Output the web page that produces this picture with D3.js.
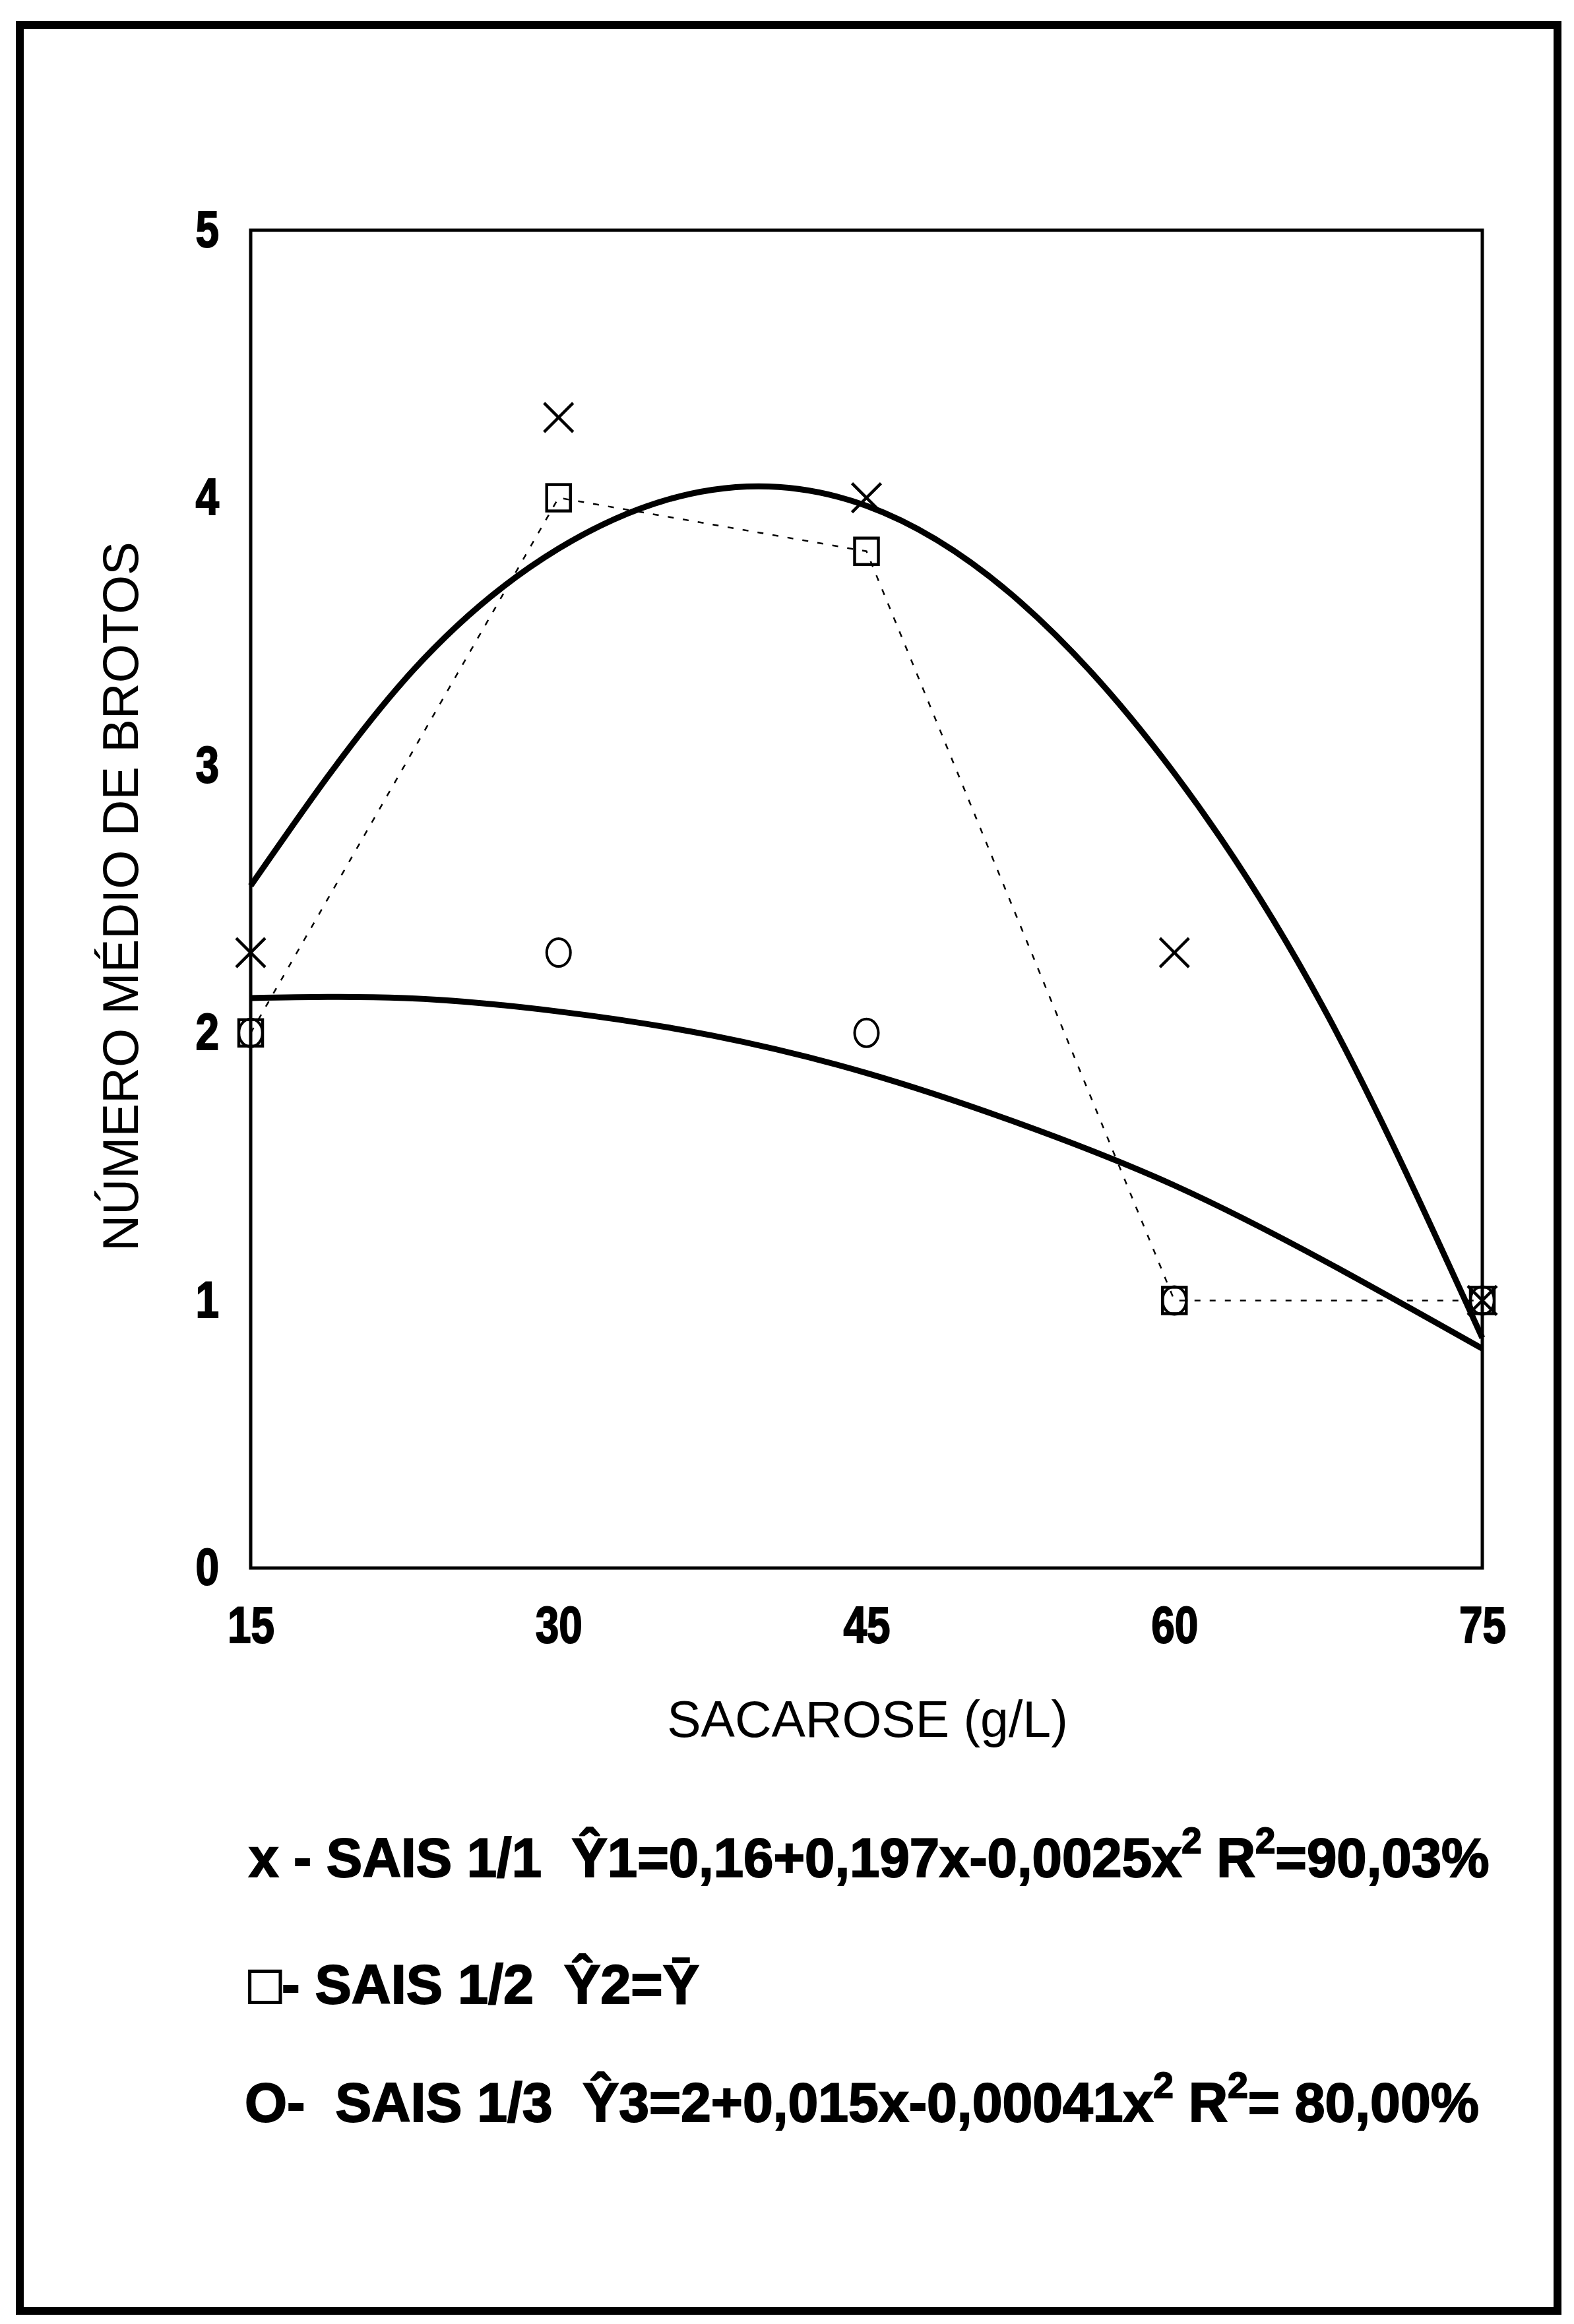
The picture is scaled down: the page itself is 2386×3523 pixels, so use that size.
<!DOCTYPE html>
<html>
<head>
<meta charset="utf-8">
<script src="https://cdn.jsdelivr.net/npm/d3@7"></script>
<style>
  body { margin: 0; background: #fff; }
  svg { display: block; }
</style>
</head>
<body>
<div id="chart"></div>
<script>
// sucrose levels (g/L)
const sacarose = [15, 30, 45, 60, 75];
// observed means per salt level
const sais11 = [2.3, 4.3, 4.0, 2.3, 1.0];
const sais12 = [2.0, 4.0, 3.8, 1.0, 1.0];
const sais13 = [2.0, 2.3, 2.0, 1.0, 1.0];
// fitted curves
const curveX = [15, 22.5, 30, 37.5, 45, 52.5, 60, 67.5, 75];
const fit11 = [2.55, 3.32, 3.81, 4.03, 3.97, 3.61, 2.97, 2.06, 0.86];
const fit13 = [2.13, 2.13, 2.08, 1.99, 1.85, 1.66, 1.43, 1.14, 0.82];
const yTicks = [0, 1, 2, 3, 4, 5];

// legend lines: [text, isSuperscript]
const legend1 = [["x - SAIS 1/1  Ŷ1=0,16+0,197x-0,0025x", false], ["2", true], [" R", false], ["2", true], ["=90,03%", false]];
const legend2 = [["□- SAIS 1/2  Ŷ2=Ȳ", false]];
const legend3 = [["O-  SAIS 1/3  Ŷ3=2+0,015x-0,00041x", false], ["2", true], [" R", false], ["2", true], ["= 80,00%", false]];

const width = 2386;
const height = 3523;
const plot = { left: 380, right: 2247, top: 349, bottom: 2377 };
const font = "'Liberation Sans', Arial, sans-serif";
const narrow = 0.82;

const svg = d3.select("#chart")
  .append("svg")
  .attr("width", width)
  .attr("height", height);

// outer frame
svg.append("rect")
  .attr("x", 30).attr("y", 38)
  .attr("width", 2331).attr("height", 3465)
  .attr("fill", "none")
  .attr("stroke", "#000")
  .attr("stroke-width", 12);

const x = d3.scaleLinear().domain([15, 75]).range([plot.left, plot.right]);
const y = d3.scaleLinear().domain([0, 5]).range([plot.bottom, plot.top]);

// plot box
svg.append("rect")
  .attr("x", plot.left).attr("y", plot.top)
  .attr("width", plot.right - plot.left)
  .attr("height", plot.bottom - plot.top)
  .attr("fill", "none")
  .attr("stroke", "#000")
  .attr("stroke-width", 5);

// axes
const yAxis = svg.append("g")
  .attr("transform", `translate(${plot.left},0)`)
  .call(d3.axisLeft(y).tickValues(yTicks).tickSize(0).tickPadding(48).tickFormat(d3.format("d")));

const xAxis = svg.append("g")
  .attr("transform", `translate(0,${plot.bottom})`)
  .call(d3.axisBottom(x).tickValues(sacarose).tickSize(0).tickPadding(58).tickFormat(d3.format("d")));

[yAxis, xAxis].forEach(g => {
  g.select(".domain").remove();
  g.selectAll("text")
    .attr("font-family", font)
    .attr("font-weight", "bold")
    .attr("font-size", 78)
    .attr("fill", "#000")
    .attr("stroke", "#000")
    .attr("stroke-width", 2);
});
yAxis.selectAll("text")
  .attr("x", -48 / narrow)
  .attr("transform", `scale(${narrow},1)`);
xAxis.selectAll("text")
  .attr("transform", `scale(${narrow},1)`);

// axis titles
svg.append("text")
  .attr("x", 1315)
  .attr("y", 2633)
  .attr("text-anchor", "middle")
  .attr("font-family", font)
  .attr("font-size", 77)
  .text("SACAROSE (g/L)");

svg.append("text")
  .attr("transform", "translate(209,1359) rotate(-90)")
  .attr("text-anchor", "middle")
  .attr("font-family", font)
  .attr("font-size", 76)
  .text("NÚMERO MÉDIO DE BROTOS");

// fitted curves
const line = d3.line()
  .x(d => x(d[0]))
  .y(d => y(d[1]))
  .curve(d3.curveNatural);

[fit11, fit13].forEach(vals => {
  svg.append("path")
    .datum(curveX.map((c, i) => [c, vals[i]]))
    .attr("d", line)
    .attr("fill", "none")
    .attr("stroke", "#000")
    .attr("stroke-width", 9);
});

// dashed connecting line for SAIS 1/2
svg.append("path")
  .datum(sacarose.map((c, i) => [c, sais12[i]]))
  .attr("d", d3.line().x(d => x(d[0])).y(d => y(d[1])))
  .attr("fill", "none")
  .attr("stroke", "#000")
  .attr("stroke-width", 2.5)
  .attr("stroke-dasharray", "9,14");

// circles (SAIS 1/3)
svg.selectAll(".circ")
  .data(sacarose.map((c, i) => [c, sais13[i]]))
  .enter()
  .append("ellipse")
  .attr("cx", d => x(d[0]))
  .attr("cy", d => y(d[1]))
  .attr("rx", 18)
  .attr("ry", 21)
  .attr("fill", "none")
  .attr("stroke", "#000")
  .attr("stroke-width", 4);

// squares (SAIS 1/2)
svg.selectAll(".sq")
  .data(sacarose.map((c, i) => [c, sais12[i]]))
  .enter()
  .append("rect")
  .attr("x", d => x(d[0]) - 18)
  .attr("y", d => y(d[1]) - 20)
  .attr("width", 36)
  .attr("height", 40)
  .attr("fill", "none")
  .attr("stroke", "#000")
  .attr("stroke-width", 4.5);

// crosses (SAIS 1/1)
svg.selectAll(".cross")
  .data(sacarose.map((c, i) => [c, sais11[i]]))
  .enter()
  .append("path")
  .attr("d", d => {
    const cx = x(d[0]), cy = y(d[1]), s = 22;
    return `M${cx - s},${cy - s}L${cx + s},${cy + s}M${cx + s},${cy - s}L${cx - s},${cy + s}`;
  })
  .attr("stroke", "#000")
  .attr("stroke-width", 4.5);

// legend text, squeezed to the widths seen in the picture
function legendLine(parts, x0, x1, baseline) {
  const t = svg.append("text")
    .attr("font-family", font)
    .attr("font-weight", "bold")
    .attr("font-size", 84)
    .attr("stroke", "#000")
    .attr("stroke-width", 2)
    .style("white-space", "pre");
  let raised = false;
  parts.forEach(([s, sup]) => {
    const sp = t.append("tspan").text(s);
    if (sup && !raised) { sp.attr("dy", -36).attr("font-size", 56); raised = true; }
    else if (sup) { sp.attr("font-size", 56); }
    else if (raised) { sp.attr("dy", 36); raised = false; }
  });
  const w = t.node().getBBox().width;
  t.attr("transform", `translate(${x0},${baseline}) scale(${(x1 - x0) / w},1)`);
}

legendLine(legend1, 377, 2258, 2845);
legendLine(legend2, 377, 1060, 3037);
legendLine(legend3, 371, 2242, 3216);
</script>
</body>
</html>
